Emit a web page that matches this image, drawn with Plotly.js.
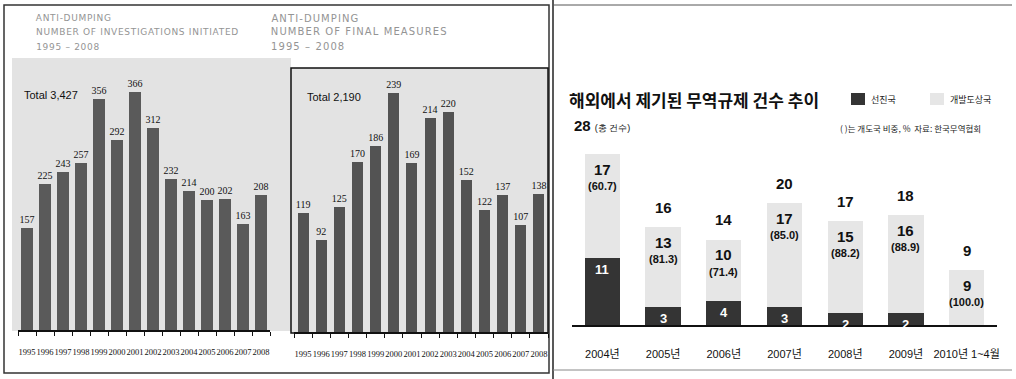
<!DOCTYPE html>
<html><head><meta charset="utf-8">
<script src="https://cdn.plot.ly/plotly-3.0.1.min.js"></script>
<style>
html,body{margin:0;padding:0;background:#fff}#chart{width:1016px;height:379px}
g.annotation[data-index="0"] text, g.annotation[data-index="2"] text, g.annotation[data-index="4"] text{letter-spacing:0.7px}
g.annotation[data-index="1"] text, g.annotation[data-index="3"] text, g.annotation[data-index="5"] text{letter-spacing:1.1px}
</style>
</head><body><div id="chart"></div>
<script>
// ---- data ----
const years = ['1995','1996','1997','1998','1999','2000','2001','2002','2003','2004','2005','2006','2007','2008'];
const initiations = [157,225,243,257,356,292,366,312,232,214,200,202,163,208];
const measures = [119,92,125,170,186,239,169,214,220,152,122,137,107,138];
const periods = ['2004년','2005년','2006년','2007년','2008년','2009년','2010년 1~4월'];
const developed = [11,3,4,3,2,2,0];
const developing = [17,13,10,17,15,16,9];
const developingShare = ['60.7','81.3','71.4','85.0','88.2','88.9','100.0'];

// ---- helpers ----
const W = 1016, H = 379;
const px = x => x / W;
const py = y => 1 - y / H;
const NUM = 'Liberation Serif, DejaVu Serif, serif';
const SANS = 'Liberation Sans, Arial, sans-serif';
const KR = 'Noto Sans CJK KR, sans-serif';
const fmt = n => n.toLocaleString('en-US');
const sum = a => a.reduce((s, v) => s + v, 0);
const totals = developed.map((d, i) => d + developing[i]);

const traces = [
  {type:'bar', x:years, y:initiations, xaxis:'x', yaxis:'y', width:0.68,
   marker:{color:'#5a5a5a'}, text:initiations.map(String), textposition:'outside',
   textfont:{family:NUM, size:10, color:'#111'}, cliponaxis:false, constraintext:'none', hoverinfo:'skip'},
  {type:'bar', x:years, y:measures, xaxis:'x2', yaxis:'y2', width:0.6,
   marker:{color:'#535353'}, text:measures.map(String), textposition:'outside',
   textfont:{family:NUM, size:10, color:'#111'}, cliponaxis:false, constraintext:'none', hoverinfo:'skip'},
  {type:'bar', x:periods, y:developed, xaxis:'x3', yaxis:'y3', width:0.58,
   marker:{color:'#343434'}, name:'선진국', hoverinfo:'skip'},
  {type:'bar', x:periods, y:developing, xaxis:'x3', yaxis:'y3', width:0.58,
   marker:{color:'#e6e6e6'}, name:'개발도상국', hoverinfo:'skip'}
];

const ann = [];
const shapes = [];
// panel frames
shapes.push({type:'rect', xref:'paper', yref:'paper', x0:px(4), x1:px(549), y0:py(373), y1:py(5), line:{color:'#333', width:1.5}, layer:'below'});
shapes.push({type:'line', xref:'paper', yref:'paper', x0:px(553), x1:px(553), y0:py(379), y1:py(0), line:{color:'#222', width:1.5}});
shapes.push({type:'line', xref:'paper', yref:'paper', x0:px(553), x1:px(1012), y0:py(5), y1:py(5), line:{color:'#555', width:1}});
shapes.push({type:'line', xref:'paper', yref:'paper', x0:px(553), x1:px(1012), y0:py(370), y1:py(370), line:{color:'#888', width:1}});
// chart backgrounds
shapes.push({type:'rect', xref:'paper', yref:'paper', x0:px(12), x1:px(291), y0:py(331), y1:py(58), fillcolor:'#e3e3e3', line:{width:0}, layer:'below'});
shapes.push({type:'rect', xref:'paper', yref:'paper', x0:px(291), x1:px(548), y0:py(333), y1:py(68), fillcolor:'#e3e3e3', line:{color:'#111', width:1.5}, layer:'below'});

// chart 1 & 2 titles (first six annotations; letter-spacing set in CSS by index,
// xshift compensates the centred growth of the spaced text)
const t1 = ['ANTI-DUMPING','NUMBER OF INVESTIGATIONS INITIATED','1995 – 2008'];
const t2 = ['ANTI-DUMPING','NUMBER OF FINAL MEASURES','1995 – 2008'];
[18, 32, 47].forEach((y, i) => {
  ann.push({xref:'paper', yref:'paper', x:px(34), y:py(y), xanchor:'left', yanchor:'middle', showarrow:false,
    xshift: t1[i].length * 0.7 / 2,
    text:t1[i], font:{family:'DejaVu Sans, sans-serif', size:9, color:'#949494'}});
  ann.push({xref:'paper', yref:'paper', x:px(269), y:py(y), xanchor:'left', yanchor:'middle', showarrow:false,
    xshift: t2[i].length * 1.1 / 2,
    text:t2[i], font:{family:'DejaVu Sans, sans-serif', size:10, color:'#949494'}});
});
ann.push({xref:'paper', yref:'paper', x:px(22), y:py(95), xanchor:'left', yanchor:'middle', showarrow:false,
  text:'Total ' + fmt(sum(initiations)), font:{family:SANS, size:11, color:'#111'}});
ann.push({xref:'paper', yref:'paper', x:px(305), y:py(97), xanchor:'left', yanchor:'middle', showarrow:false,
  text:'Total ' + fmt(sum(measures)), font:{family:SANS, size:11, color:'#111'}});

// chart 3 title, legend, notes
ann.push({xref:'paper', yref:'paper', x:px(567), y:py(99), xanchor:'left', yanchor:'middle', showarrow:false,
  text:'<b>해외에서 제기된 무역규제 건수 추이</b>', font:{family:KR, size:17, color:'#111'}});
shapes.push({type:'rect', xref:'paper', yref:'paper', x0:px(851), x1:px(865), y0:py(105), y1:py(93), fillcolor:'#343434', line:{width:0}});
shapes.push({type:'rect', xref:'paper', yref:'paper', x0:px(930), x1:px(944), y0:py(105), y1:py(93), fillcolor:'#e6e6e6', line:{width:0}});
ann.push({xref:'paper', yref:'paper', x:px(869), y:py(99), xanchor:'left', yanchor:'middle', showarrow:false,
  text:'선진국', font:{family:KR, size:9, color:'#222'}});
ann.push({xref:'paper', yref:'paper', x:px(948), y:py(99), xanchor:'left', yanchor:'middle', showarrow:false,
  text:'개발도상국', font:{family:KR, size:9, color:'#222'}});
ann.push({xref:'paper', yref:'paper', x:px(838), y:py(128), xanchor:'left', yanchor:'middle', showarrow:false,
  text:'( )는 개도국 비중, %  자료: 한국무역협회', font:{family:KR, size:8.5, color:'#222'}});

// chart 3 bar labels
periods.forEach((p, i) => {
  if (i === 0) {
    ann.push({xref:'x3', yref:'y3', x:p, y:totals[i], xshift:-30, yshift:29, xanchor:'left', yanchor:'middle', showarrow:false,
      text:'<b>' + totals[i] + '</b> <span style="font-size:9px">(총 건수)</span>', font:{family:SANS, size:15, color:'#111'}});
  } else {
    ann.push({xref:'x3', yref:'y3', x:p, y:totals[i], yshift:20, yanchor:'middle', showarrow:false,
      text:'<b>' + totals[i] + '</b>', font:{family:SANS, size:15, color:'#111'}});
  }
  ann.push({xref:'x3', yref:'y3', x:p, y:totals[i], yshift:-15, yanchor:'middle', showarrow:false,
    text:'<b>' + developing[i] + '</b>', font:{family:SANS, size:15, color:'#111'}});
  ann.push({xref:'x3', yref:'y3', x:p, y:totals[i], yshift:-32, yanchor:'middle', showarrow:false,
    text:'<b>(' + developingShare[i] + ')</b>', font:{family:SANS, size:11, color:'#111'}});
  if (developed[i] > 0) {
    ann.push({xref:'x3', yref:'y3', x:p, y:developed[i], yshift:-2, yanchor:'top', showarrow:false,
      text:'<b>' + developed[i] + '</b>', font:{family:SANS, size:13, color:'#fff'}});
  }
});

const catAxis = (domain, anchor) => ({
  domain:domain, anchor:anchor, type:'category', showgrid:false, zeroline:false,
  showline:true, linecolor:'#111', linewidth:1.5, ticks:'outside', tickson:'boundaries',
  ticklen:4, tickcolor:'#111', tickwidth:1, ticklabelstandoff:13, tickangle:0,
  tickfont:{family:NUM, size:8.5, color:'#111'}, fixedrange:true
});
const valAxis = (domain, anchor, range) => ({
  domain:domain, anchor:anchor, range:range, visible:false, showgrid:false, zeroline:false, fixedrange:true
});

const layout = {
  width:W, height:H, margin:{l:0, r:0, t:0, b:0}, showlegend:false,
  paper_bgcolor:'#fff', plot_bgcolor:'rgba(0,0,0,0)', barmode:'stack',
  xaxis: catAxis([px(18), px(270)], 'y'),
  yaxis: valAxis([py(330), py(60)], 'x', [0, 416]),
  xaxis2: catAxis([px(294), px(548)], 'y2'),
  yaxis2: valAxis([py(332), py(68)], 'x2', [0, 264]),
  xaxis3: Object.assign(catAxis([px(572), px(997)], 'y3'), {ticks:'', ticklabelstandoff:18,
    tickfont:{family:'Liberation Sans, Noto Sans CJK KR, sans-serif', size:11, color:'#111'}}),
  yaxis3: valAxis([py(325), py(150)], 'x3', [0, 28.7]),
  annotations: ann, shapes: shapes
};

Plotly.newPlot('chart', traces, layout, {staticPlot:true, displayModeBar:false});
</script>
</body></html>
